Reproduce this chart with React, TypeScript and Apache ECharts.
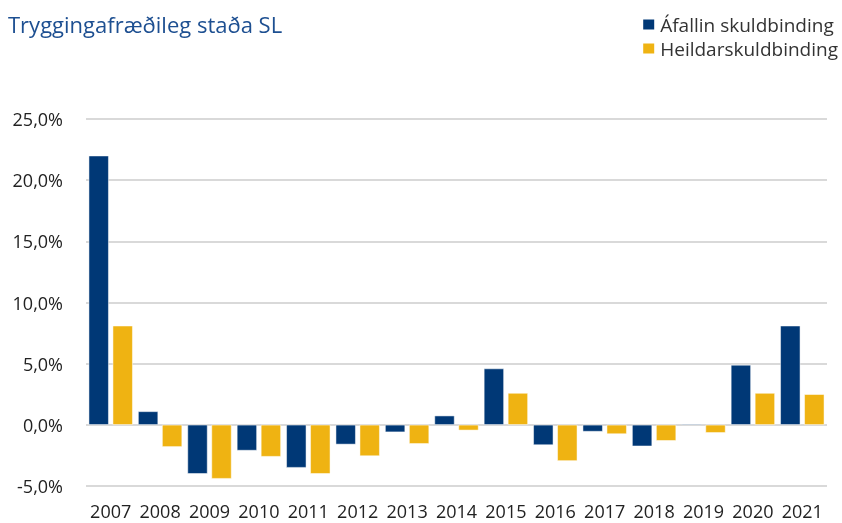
import React, { useEffect, useRef } from "react";
import * as echarts from "echarts";

const years = ["2007","2008","2009","2010","2011","2012","2013","2014","2015","2016","2017","2018","2019","2020","2021"];
const afallin = [22.0, 1.1, -4.0, -2.1, -3.5, -1.6, -0.6, 0.75, 4.6, -1.65, -0.55, -1.75, 0.08, 4.9, 8.1];
const heildar = [8.1, -1.8, -4.4, -2.6, -4.0, -2.55, -1.55, -0.45, 2.6, -2.95, -0.75, -1.3, -0.65, 2.6, 2.5];
const seriesNames = ["Áfallin skuldbinding", "Heildarskuldbinding"];
const title = "Tryggingafræðileg staða SL";

export default function App() {
  const ref = useRef<HTMLDivElement>(null);
  useEffect(() => {
    const chart = echarts.init(ref.current!, null, { renderer: "svg" });
    const font = "'Open Sans', sans-serif";
    chart.setOption({
      animation: false,
      textStyle: { fontFamily: font },
      title: {
        text: title,
        left: 3,
        top: 8,
        textStyle: { color: "#1d4f91", fontSize: 22, fontWeight: "normal", fontFamily: font },
      },
      legend: {
        orient: "vertical",
        right: -1,
        top: 10,
        itemWidth: 13,
        itemHeight: 12,
        itemGap: 5,
        icon: "rect",
        textStyle: { color: "#333", fontSize: 19, fontFamily: font },
        data: seriesNames,
      },
      grid: { left: 86, right: 15, top: 119, bottom: 37, containLabel: false },
      xAxis: {
        type: "category",
        data: years,
        axisLine: { show: false },
        axisTick: { show: false },
        axisLabel: { color: "#222", fontSize: 18, margin: 16, fontFamily: font, interval: 0 },
      },
      yAxis: {
        type: "value",
        min: -5,
        max: 25,
        interval: 5,
        axisLine: { show: false },
        axisTick: { show: false },
        splitLine: { lineStyle: { color: "#cccccc", width: 1.5 } },
        axisLabel: {
          color: "#222",
          fontSize: 18,
          margin: 23,
          fontFamily: font,
          formatter: (v: number) => v.toFixed(1).replace(".", ",") + "%",
        },
      },
      series: [
        {
          name: seriesNames[0],
          type: "bar",
          data: afallin,
          barWidth: 20,
          barGap: "20%",
          itemStyle: { color: "#003876", borderColor: "#ffffff", borderWidth: 0.5 },
        },
        {
          name: seriesNames[1],
          type: "bar",
          data: heildar,
          barWidth: 20,
          barGap: "20%",
          itemStyle: { color: "#efb312", borderColor: "#ffffff", borderWidth: 0.5 },
        },
      ],
    });
    return () => chart.dispose();
  }, []);
  return <div ref={ref} style={{ position: "fixed", left: 0, top: 0, width: 842, height: 523 }} />;
}
